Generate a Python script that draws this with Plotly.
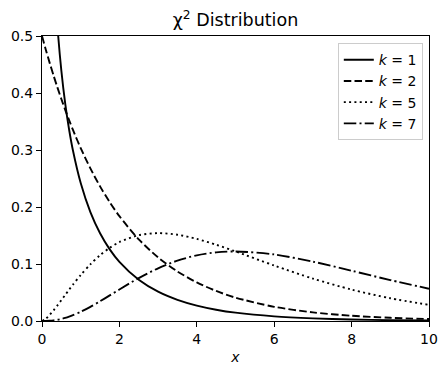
import plotly.graph_objects as go

x_vals = [0.0, 0.1, 0.2, 0.3, 0.4, 0.5, 0.6, 0.7, 0.8, 1.0, 1.25, 1.5, 1.75, 2.0, 2.5,
          3.0, 3.5, 4.0, 4.5, 5.0, 6.0, 7.0, 8.0, 9.0, 10.0]
k1 = [None, None, None, 0.6269, 0.5164, 0.4394, 0.3815, 0.3360, 0.2990, 0.2420, 0.1910,
      0.1539, 0.1257, 0.1038, 0.0723, 0.0514, 0.0371, 0.0270, 0.0198, 0.0146, 0.0081,
      0.0046, 0.0026, 0.0015, 0.00085]
k2 = [0.5, 0.4756, 0.4524, 0.4304, 0.4094, 0.3894, 0.3704, 0.3523, 0.3352, 0.3033, 0.2677,
      0.2362, 0.2084, 0.1839, 0.1433, 0.1116, 0.0869, 0.0677, 0.0527, 0.0410, 0.0249,
      0.0151, 0.0092, 0.0056, 0.0034]
k5 = [0.0, 0.0040, 0.01076, 0.01881, 0.02754, 0.03662, 0.04578, 0.05488, 0.06378, 0.08066,
      0.09948, 0.11541, 0.12834, 0.13837, 0.15060, 0.15418, 0.15133, 0.14398, 0.13380,
      0.12206, 0.09730, 0.07437, 0.05511, 0.03989, 0.02833]
k7 = [0.0, 0.00008, 0.00043, 0.00113, 0.00220, 0.00366, 0.00549, 0.00768, 0.01020, 0.01613,
      0.02487, 0.03462, 0.04492, 0.05535, 0.07530, 0.09251, 0.10594, 0.11518, 0.12042,
      0.12206, 0.11677, 0.10412, 0.08818, 0.07180, 0.05667]
labels = ["<i>k</i> = 1", "<i>k</i> = 2", "<i>k</i> = 5", "<i>k</i> = 7"]
x_ticks = [0, 2, 4, 6, 8, 10]
y_ticks = [0.0, 0.1, 0.2, 0.3, 0.4, 0.5]

series = [k1, k2, k5, k7]
dashes = ["solid", "7.5px,3.2px", "2px,3.3px", "12.5px,3.2px,2px,3.2px"]

fig = go.Figure()
for ys, lab, d in zip(series, labels, dashes):
    fig.add_trace(go.Scatter(x=x_vals, y=ys, mode="lines", name=lab,
                             line=dict(color="black", width=1.9, dash=d, shape="spline", smoothing=0.8),
                             connectgaps=False))

font_family = "DejaVu Sans"
fig.update_layout(
    width=448, height=374,
    margin=dict(l=42, r=19, t=36, b=53),
    paper_bgcolor="white", plot_bgcolor="white",
    font=dict(family=font_family, size=14, color="black"),
    title=dict(text="χ<sup>2</sup> Distribution", x=0.5, xanchor="center", xref="paper",
               y=1 - 20 / 374, yanchor="middle", font=dict(size=17.5, family=font_family)),
    showlegend=True,
    legend=dict(x=0.984, y=0.975, xanchor="right", yanchor="top",
                bordercolor="#cccccc", borderwidth=1, bgcolor="rgba(255,255,255,0.8)",
                font=dict(size=14, family=font_family), tracegroupgap=0, itemwidth=30),
)
fig.update_xaxes(range=[0, 10], tickvals=x_ticks, ticks="outside", ticklen=5, tickwidth=1,
                 tickcolor="black", showline=True, linecolor="black", linewidth=1, mirror=True,
                 showgrid=False, zeroline=False, automargin=False,
                 title=dict(text="<i>x</i>", font=dict(size=14), standoff=6))
fig.update_yaxes(range=[0, 0.5], tickvals=y_ticks, tickformat=".1f", ticks="outside", ticklen=5,
                 tickwidth=1, tickcolor="black", showline=True, linecolor="black", linewidth=1,
                 mirror=True, showgrid=False, zeroline=False, automargin=False)

fig.write_html("out.html", config={"displayModeBar": False},
               post_script="document.body.style.margin='0';document.body.style.overflow='hidden';")
